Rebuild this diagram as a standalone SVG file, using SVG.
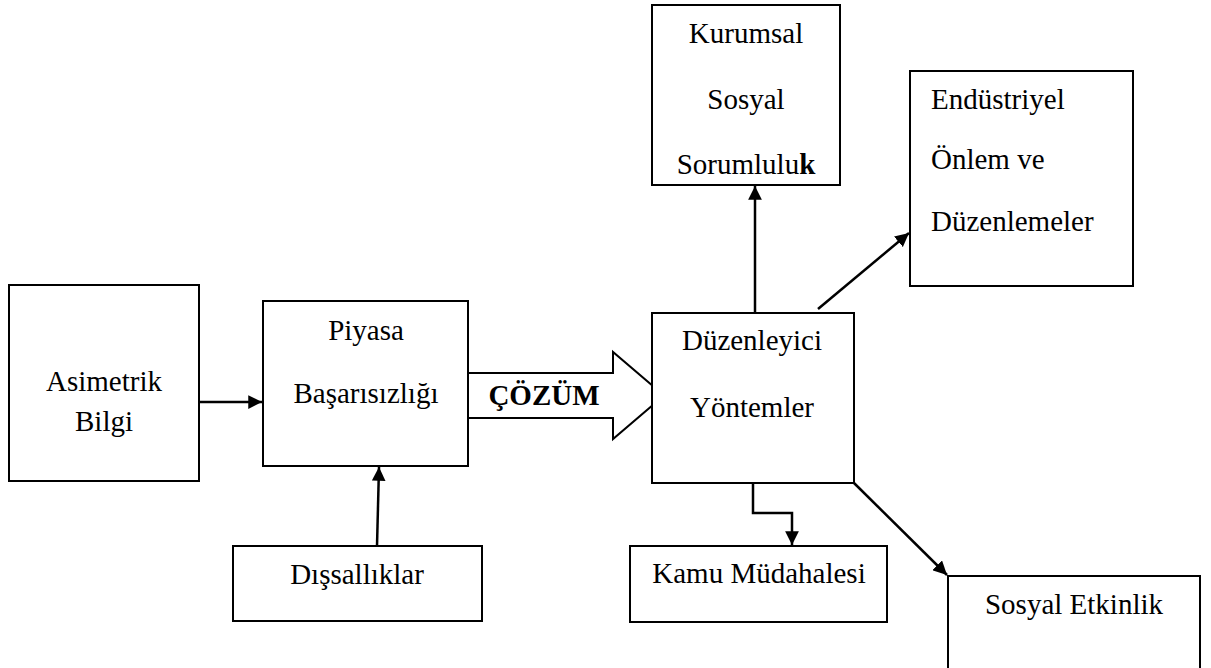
<svg xmlns="http://www.w3.org/2000/svg" width="1211" height="668" viewBox="0 0 1211 668">
<style>
.box{fill:#fff;stroke:#000;stroke-width:2}
.t{font-family:'Liberation Serif',serif;font-size:29px;fill:#000}
.c{text-anchor:middle}
.ln{fill:none;stroke:#000;stroke-width:2.5}
</style>
<defs>
<marker id="ah" viewBox="0 0 10 10" refX="10" refY="5" markerWidth="5.5" markerHeight="5.5" markerUnits="strokeWidth" orient="auto">
<path d="M0,0 L10,5 L0,10 z" fill="#000"/>
</marker>
</defs>
<g id="connectors">
<line class="ln" x1="199" y1="402" x2="262" y2="402" marker-end="url(#ah)"/>
<line class="ln" x1="377" y1="546" x2="379" y2="467" marker-end="url(#ah)"/>
<polygon points="468,373 613,373 613,352 664,395.5 613,439 613,418 468,418" fill="#fff" stroke="#000" stroke-width="2"/>
<text class="t c" x="544" y="405" font-weight="bold">ÇÖZÜM</text>
<line class="ln" x1="755" y1="313" x2="755" y2="186" marker-end="url(#ah)"/>
<line class="ln" x1="818" y1="309" x2="909" y2="233" marker-end="url(#ah)"/>
<polyline class="ln" points="753,482 753,513 792,513 792,545" marker-end="url(#ah)"/>
<line class="ln" x1="854" y1="483" x2="947" y2="575" marker-end="url(#ah)"/>
</g>
<g id="asimetrik">
<rect class="box" x="9" y="285" width="190" height="196"/>
<text class="t c" x="104" y="391">Asimetrik</text>
<text class="t c" x="104" y="431">Bilgi</text>
</g>
<g id="piyasa">
<rect class="box" x="263" y="301" width="205" height="165"/>
<text class="t c" x="366" y="340">Piyasa</text>
<text class="t c" x="366" y="403">Başarısızlığı</text>
</g>
<g id="dissalliklar">
<rect class="box" x="233" y="546" width="249" height="75"/>
<text class="t c" x="357" y="584">Dışsallıklar</text>
</g>
<g id="duzenleyici">
<rect class="box" x="652" y="313" width="202" height="170"/>
<text class="t c" x="752" y="350">Düzenleyici</text>
<text class="t c" x="752" y="417">Yöntemler</text>
</g>
<g id="kurumsal">
<rect class="box" x="652" y="5" width="188" height="180"/>
<text class="t c" x="746" y="43">Kurumsal</text>
<text class="t c" x="746" y="109">Sosyal</text>
<text class="t c" x="746" y="174">Sorumlulu<tspan font-weight="bold">k</tspan></text>
</g>
<g id="endustriyel">
<rect class="box" x="910" y="71" width="223" height="215"/>
<text class="t" x="931" y="109">Endüstriyel</text>
<text class="t" x="931" y="169">Önlem ve</text>
<text class="t" x="931" y="231">Düzenlemeler</text>
</g>
<g id="kamu">
<rect class="box" x="630" y="546" width="257" height="76"/>
<text class="t c" x="759" y="583">Kamu Müdahalesi</text>
</g>
<g id="sosyal-etkinlik">
<rect class="box" x="948" y="576" width="252" height="110"/>
<text class="t c" x="1074" y="614">Sosyal Etkinlik</text>
</g>
</svg>
